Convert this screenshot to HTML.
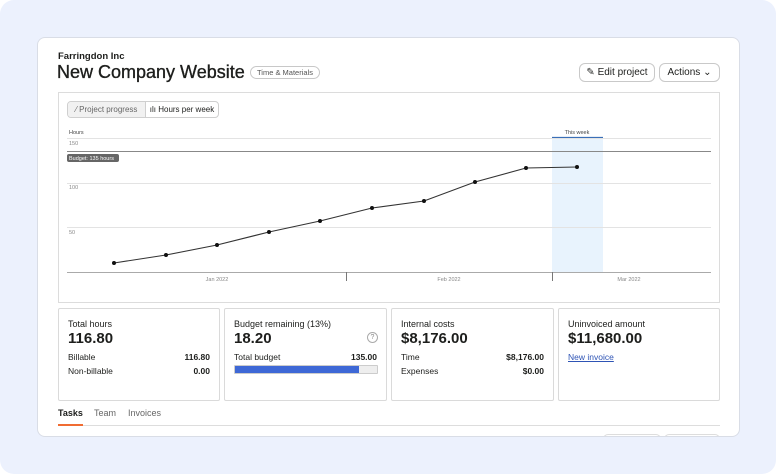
<!DOCTYPE html>
<html><head><meta charset="utf-8"><style>
*{box-sizing:border-box;margin:0;padding:0}
body{width:776px;height:474px;background:#fff;font-family:"Liberation Sans",sans-serif;color:#1d1e1c;position:relative;overflow:hidden}
.bg{position:absolute;left:0;top:0;width:776px;height:474px;background:#ecf1fd;border-radius:14px}
.card{position:absolute;left:37px;top:37px;width:703px;height:400px;background:#fff;border:1px solid #d9dde6;border-radius:8px;overflow:hidden}
.a{position:absolute;white-space:nowrap}
.btn{position:absolute;border:1px solid #c9c9c9;border-radius:6px;background:#fff;font-size:10px;display:flex;align-items:center;justify-content:center}
.stat{position:absolute;top:308px;height:93px;border:1px solid #dadada;border-radius:2px;background:#fff}
.stat .l{position:absolute;left:9px;top:10px;font-size:9px}
.stat .v{position:absolute;left:9px;top:21px;font-size:15px;font-weight:bold}
.stat .r{position:absolute;left:9px;right:9px;font-size:8.5px;display:flex;justify-content:space-between}
.stat .r b{font-weight:bold}
</style></head><body>
<div class="bg"></div>
<div class="card">
<div class="a" style="left:565px;top:396px;width:58px;height:10px;border:1px solid #ddd;border-radius:5px"></div>
<div class="a" style="left:626px;top:396px;width:56px;height:10px;border:1px solid #ddd;border-radius:5px"></div>
</div>
<div class="a" style="left:58px;top:51px;font-size:9.5px;font-weight:bold">Farringdon Inc</div>
<div class="a" style="left:57px;top:62px;font-size:18px;-webkit-text-stroke:0.35px #1d1e1c">New Company Website</div>
<div class="a" style="left:250px;top:66px;height:13px;padding:0 6px;border:1px solid #c8c8c8;border-radius:7px;font-size:7.5px;line-height:11px;color:#555">Time &amp; Materials</div>
<div class="btn" style="left:579px;top:63px;width:76px;height:19px">✎&nbsp;Edit project</div>
<div class="btn" style="left:659px;top:63px;width:61px;height:19px">Actions&nbsp;⌄</div>
<div class="a" style="left:58px;top:92px;width:662px;height:211px;border:1px solid #dcdcdc"></div>
<div class="a" style="left:67px;top:101px;width:152px;height:17px;border:1px solid #cfcfcf;border-radius:4px;font-size:8px;display:flex;overflow:hidden">
<div style="width:78px;background:#f1f1f1;color:#666;display:flex;align-items:center;justify-content:center;border-right:1px solid #cfcfcf">⁄ Project progress</div>
<div style="flex:1;display:flex;align-items:center;justify-content:center">ılı Hours per week</div></div>
<svg class="a" style="left:0;top:0" width="776" height="474" font-family="Liberation Sans" font-size="5.5" fill="#888">
<rect x="552" y="137" width="51" height="135" fill="#e8f3fd"/>
<line x1="552" y1="137.5" x2="603" y2="137.5" stroke="#3a6fb7" stroke-width="1.2"/>
<text x="577" y="134" text-anchor="middle" fill="#444">This week</text>
<text x="69" y="134" fill="#444">Hours</text>
<text x="69" y="145">150</text><text x="69" y="189">100</text><text x="69" y="234">50</text>
<g stroke="#e3e3e3"><line x1="67" y1="138.5" x2="711" y2="138.5"/><line x1="67" y1="183.5" x2="711" y2="183.5"/><line x1="67" y1="227.5" x2="711" y2="227.5"/></g>
<line x1="67" y1="151.5" x2="711" y2="151.5" stroke="#888"/>
<rect x="67" y="154" width="52" height="8" rx="2" fill="#666"/>
<text x="69" y="160" fill="#fff">Budget: 135 hours</text>
<line x1="67" y1="272.5" x2="711" y2="272.5" stroke="#aaa"/>
<g stroke="#777"><line x1="346.5" y1="272" x2="346.5" y2="281"/><line x1="552.5" y1="272" x2="552.5" y2="281"/></g>
<text x="217" y="281" text-anchor="middle">Jan 2022</text><text x="449" y="281" text-anchor="middle">Feb 2022</text><text x="629" y="281" text-anchor="middle">Mar 2022</text>
<polyline fill="none" stroke="#333" stroke-width="1.1" points="114,263 166,255 217,245 269,232 320,221 372,208 424,201 475,182 526,168 577,167"/>
<g fill="#111"><circle cx="114" cy="263" r="2"/><circle cx="166" cy="255" r="2"/><circle cx="217" cy="245" r="2"/><circle cx="269" cy="232" r="2"/><circle cx="320" cy="221" r="2"/><circle cx="372" cy="208" r="2"/><circle cx="424" cy="201" r="2"/><circle cx="475" cy="182" r="2"/><circle cx="526" cy="168" r="2"/><circle cx="577" cy="167" r="2"/></g>
</svg>
<div class="stat" style="left:58px;width:162px"><div class="l">Total hours</div><div class="v">116.80</div>
<div class="r" style="top:43px"><span>Billable</span><b>116.80</b></div><div class="r" style="top:57px"><span>Non-billable</span><b>0.00</b></div></div>
<div class="stat" style="left:224px;width:163px"><div class="l">Budget remaining (13%)</div><div class="v">18.20</div>
<div class="a" style="right:8px;top:23px;width:11px;height:11px;border:1px solid #aaa;border-radius:50%;font-size:7px;color:#888;text-align:center;line-height:10px">?</div>
<div class="r" style="top:43px"><span>Total budget</span><b>135.00</b></div>
<div class="a" style="left:9px;top:56px;width:144px;height:9px;background:#eee;border:1px solid #ccc;border-radius:1px"><div style="width:124px;height:7px;background:#3e68d6"></div></div></div>
<div class="stat" style="left:391px;width:163px"><div class="l">Internal costs</div><div class="v">$8,176.00</div>
<div class="r" style="top:43px"><span>Time</span><b>$8,176.00</b></div><div class="r" style="top:57px"><span>Expenses</span><b>$0.00</b></div></div>
<div class="stat" style="left:558px;width:162px"><div class="l">Uninvoiced amount</div><div class="v">$11,680.00</div>
<div class="a" style="left:9px;top:43px;font-size:8.5px;color:#2e54b5;text-decoration:underline">New invoice</div></div>
<div class="a" style="left:58px;top:408px;font-size:9px;font-weight:bold">Tasks</div>
<div class="a" style="left:94px;top:408px;font-size:9px;color:#666">Team</div>
<div class="a" style="left:128px;top:408px;font-size:9px;color:#666">Invoices</div>
<div class="a" style="left:58px;top:425px;width:662px;height:1px;background:#ddd"></div>
<div class="a" style="left:58px;top:424px;width:25px;height:2px;background:#f06c32"></div>
</body></html>
